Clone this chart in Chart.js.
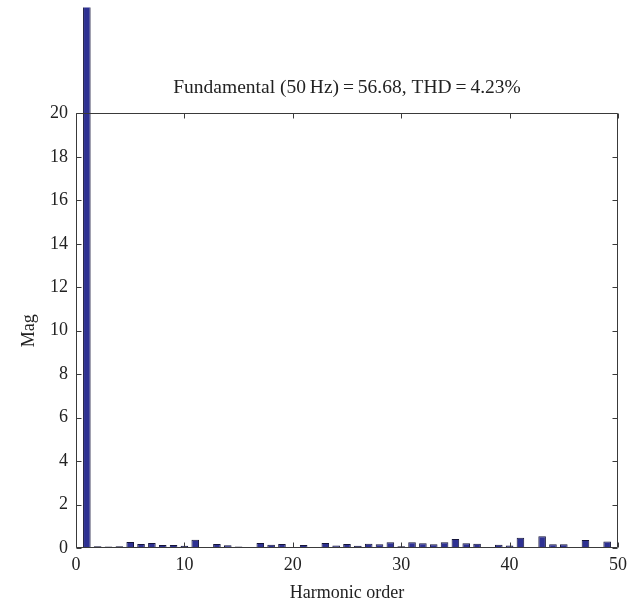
<!DOCTYPE html>
<html>
<head>
<meta charset="utf-8">
<script src="https://cdn.jsdelivr.net/npm/chart.js@4/dist/chart.umd.min.js"></script>
<style>
  body { margin: 0; background: #fff; }
  #wrap { width: 640px; height: 604px; }
</style>
</head>
<body>
<div id="wrap"><canvas id="myChart" width="640" height="604"></canvas></div>
<script>
// harmonic orders 0..50
var orders = [0, 1, 2, 3, 4, 5, 6, 7, 8, 9, 10, 11, 12, 13, 14, 15, 16, 17, 18, 19, 20,
  21, 22, 23, 24, 25, 26, 27, 28, 29, 30, 31, 32, 33, 34, 35, 36, 37, 38, 39, 40,
  41, 42, 43, 44, 45, 46, 47, 48, 49, 50];

// magnitude of each harmonic
var magnitudes = [0.05, 56.68, 0.08, 0.07, 0.08, 0.28, 0.18, 0.23, 0.14, 0.14, 0.1,
  0.38, 0.03, 0.18, 0.13, 0.07, 0.03, 0.23, 0.15, 0.18, 0.05,
  0.14, 0.05, 0.23, 0.12, 0.18, 0.1, 0.2, 0.17, 0.26, 0.08,
  0.26, 0.22, 0.17, 0.26, 0.41, 0.22, 0.2, 0.05, 0.15, 0.12,
  0.47, 0.05, 0.54, 0.17, 0.17, 0.05, 0.37, 0.05, 0.3, 0];

var xTicks = [0, 10, 20, 30, 40, 50];
var yTicks = [0, 2, 4, 6, 8, 10, 12, 14, 16, 18, 20];

var titleText = 'Fundamental (50\u2009Hz)\u2009=\u200956.68, THD\u2009=\u20094.23%';

var serif = '"Liberation Serif", "DejaVu Serif", serif';

var points = orders.map(function (o, i) { return { x: o, y: magnitudes[i] }; });

// matlab style box with inward ticks, title centred over the plot box
var boxPlugin = {
  id: 'box',
  afterLayout: function (chart) {
    if (chart.titleBlock) {
      chart.titleBlock.left = chart.chartArea.left;
      chart.titleBlock.right = chart.chartArea.right;
    }
  },
  afterDraw: function (chart) {
    var ctx = chart.ctx, a = chart.chartArea;
    var x = chart.scales.x, y = chart.scales.y;
    var L = Math.round(a.left) + 0.5, R = Math.round(a.right) - 0.5;
    var T = Math.round(a.top) + 0.5, B = Math.round(a.bottom) - 0.5;
    ctx.save();
    ctx.strokeStyle = '#3a3a3a';
    ctx.lineWidth = 1;
    ctx.beginPath();
    ctx.moveTo(L, T); ctx.lineTo(R, T); ctx.lineTo(R, B); ctx.lineTo(L, B); ctx.closePath();
    xTicks.forEach(function (v) {
      var px = Math.round(x.getPixelForValue(v)) + 0.5;
      ctx.moveTo(px, B); ctx.lineTo(px, B - 5);
      ctx.moveTo(px, T); ctx.lineTo(px, T + 5);
    });
    yTicks.forEach(function (v) {
      var py = Math.round(y.getPixelForValue(v)) + 0.5;
      ctx.moveTo(L, py); ctx.lineTo(L + 5, py);
      ctx.moveTo(R, py); ctx.lineTo(R - 5, py);
    });
    ctx.stroke();
    ctx.restore();
  }
};

var ctx = document.getElementById('myChart').getContext('2d');

var myChart = new Chart(ctx, {
  type: 'bar',
  data: {
    datasets: [{
      label: 'Mag',
      data: points,
      backgroundColor: '#2e3192',
      borderColor: '#15153a',
      borderWidth: 1,
      barPercentage: 0.7,
      categoryPercentage: 1,
      clip: { left: 0, top: 106, right: 0, bottom: 0 }
    }]
  },
  options: {
    responsive: false,
    animation: false,
    layout: { padding: { left: 0, right: 22, top: 0, bottom: 0 } },
    plugins: {
      legend: { display: false },
      tooltip: { enabled: false },
      title: {
        display: true,
        text: titleText,
        color: '#222',
        font: { family: serif, size: 19.5, weight: 'normal' },
        padding: { top: 76, bottom: 14 }
      }
    },
    scales: {
      x: {
        type: 'linear',
        min: 0,
        max: 50,
        offset: false,
        afterFit: function (s) { s.height = 56; },
        afterBuildTicks: function (s) { s.ticks = xTicks.map(function (v) { return { value: v }; }); },
        grid: { display: true, offset: false, drawOnChartArea: false, drawTicks: false },
        border: { display: false },
        ticks: { color: '#222', padding: 6, maxRotation: 0, font: { family: serif, size: 18 } },
        title: { display: true, text: 'Harmonic order', color: '#222', padding: { top: 1, bottom: 0 }, font: { family: serif, size: 18 } }
      },
      y: {
        min: 0,
        max: 20,
        afterFit: function (s) { s.width = 76; },
        afterBuildTicks: function (s) { s.ticks = yTicks.map(function (v) { return { value: v }; }); },
        grid: { display: true, drawOnChartArea: false, drawTicks: false },
        border: { display: false },
        ticks: { color: '#222', padding: 8, font: { family: serif, size: 18 } },
        title: { display: true, text: 'Mag', color: '#222', padding: { top: 18, bottom: 0 }, font: { family: serif, size: 18 } }
      }
    }
  },
  plugins: [boxPlugin]
});
</script>
</body>
</html>
